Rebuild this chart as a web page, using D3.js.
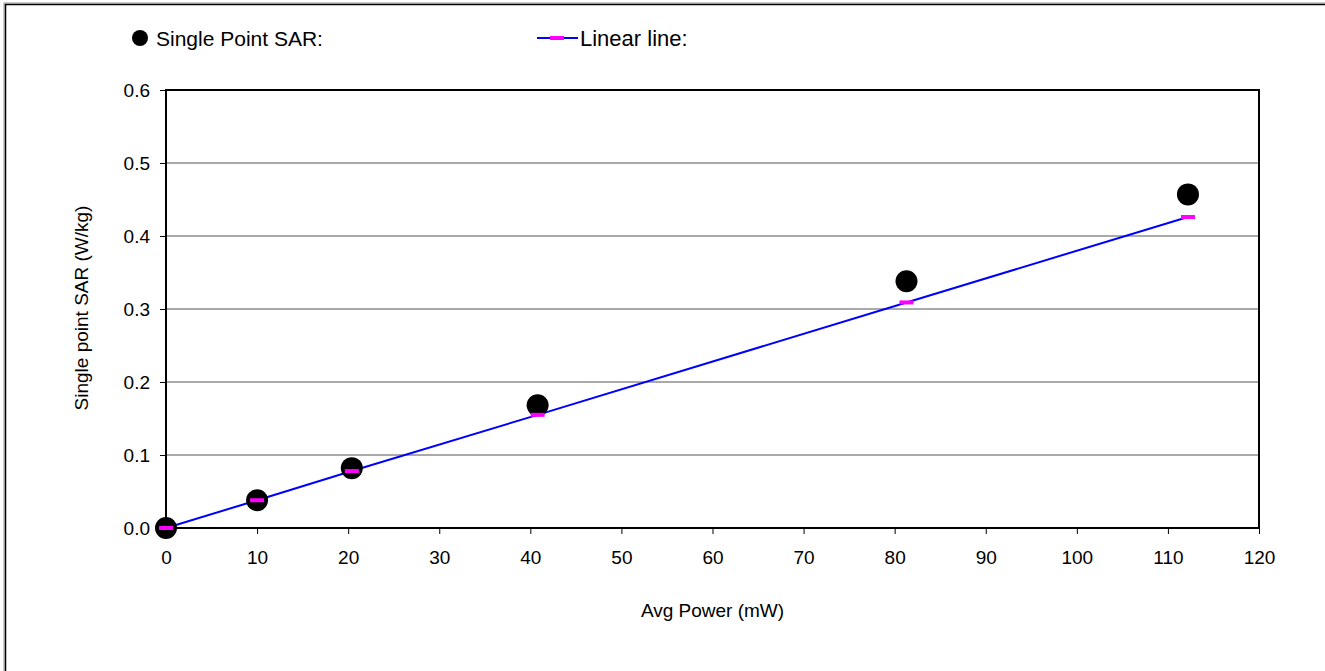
<!DOCTYPE html>
<head>
  <meta charset="utf-8">
  <style>
    body { margin: 0; background: white; overflow: hidden; }
    svg { display: block; }
    text { font-family: 'Liberation Sans', Arial, sans-serif; fill: black; }
    .axis text { font-size: 19px; font-family: 'Liberation Sans', Arial, sans-serif; }
    .axis path, .axis line { stroke: black; }
  </style>
</head>
<body>
  <script src="https://cdn.jsdelivr.net/npm/d3@7"></script>
  <script>
    // data
    const power = [0, 10, 20.4, 40.8, 81.3, 112.2];
    const sarPoints = [0, 0.038, 0.082, 0.168, 0.338, 0.457];
    const linearLine = [0, 0.038, 0.078, 0.155, 0.309, 0.426];
    const xTicks = [0, 10, 20, 30, 40, 50, 60, 70, 80, 90, 100, 110, 120];
    const yTicks = [0, 0.1, 0.2, 0.3, 0.4, 0.5, 0.6];

    const width = 1325, height = 671;
    const margin = {top: 90, right: 66, bottom: 143, left: 166};
    const innerWidth = width - margin.left - margin.right;
    const innerHeight = height - margin.top - margin.bottom;

    const svg = d3.select("body").append("svg")
      .attr("width", width)
      .attr("height", height);

    // outer frame (only top and left edges fall inside the picture)
    svg.append("rect")
      .attr("x", 4).attr("y", 3)
      .attr("width", width + 20).attr("height", height + 20)
      .attr("fill", "none").attr("stroke", "#999").attr("stroke-width", 1);
    svg.append("rect")
      .attr("x", 5.5).attr("y", 4.5)
      .attr("width", width + 20).attr("height", height + 20)
      .attr("fill", "none").attr("stroke", "black").attr("stroke-width", 1.5);

    const g = svg.append("g")
      .attr("transform", "translate(" + margin.left + "," + margin.top + ")");

    const x = d3.scaleLinear().domain([0, 120]).range([0, innerWidth]);
    const y = d3.scaleLinear().domain([0, 0.6]).range([innerHeight, 0]);

    // grid lines
    g.selectAll(".grid").data(yTicks.slice(1, -1)).enter().append("line")
      .attr("class", "grid")
      .attr("x1", 0).attr("x2", innerWidth)
      .attr("y1", d => y(d)).attr("y2", d => y(d))
      .attr("stroke", "#555").attr("stroke-width", 1);

    // axes
    g.append("g")
      .attr("class", "axis")
      .attr("transform", "translate(0," + innerHeight + ")")
      .call(d3.axisBottom(x).tickValues(xTicks).tickSize(6).tickSizeOuter(0).tickPadding(17))
      .call(a => a.select(".domain").remove());

    g.append("g")
      .attr("class", "axis")
      .call(d3.axisLeft(y).tickValues(yTicks).tickFormat(d3.format(".1f")).tickSize(6).tickSizeOuter(0).tickPadding(10))
      .call(a => a.select(".domain").remove());

    // plot frame
    g.append("rect")
      .attr("width", innerWidth).attr("height", innerHeight)
      .attr("fill", "none").attr("stroke", "black").attr("stroke-width", 2);

    // linear line
    g.append("path")
      .datum(power.map((p, i) => [p, linearLine[i]]))
      .attr("fill", "none").attr("stroke", "#0000ff").attr("stroke-width", 2)
      .attr("d", d3.line().x(d => x(d[0])).y(d => y(d[1])));

    // SAR points
    g.selectAll(".pt").data(power).enter().append("circle")
      .attr("class", "pt")
      .attr("cx", d => x(d)).attr("cy", (d, i) => y(sarPoints[i]))
      .attr("r", 11).attr("fill", "black");

    // linear line markers
    g.selectAll(".mk").data(power).enter().append("rect")
      .attr("class", "mk")
      .attr("x", d => x(d) - 7).attr("y", (d, i) => y(linearLine[i]) - 2)
      .attr("width", 14).attr("height", 4).attr("fill", "#ff00ff");

    // axis titles
    svg.append("text")
      .attr("x", margin.left + innerWidth / 2).attr("y", 617)
      .attr("text-anchor", "middle").style("font-size", "19px")
      .text("Avg Power (mW)");

    svg.append("text")
      .attr("transform", "translate(88,308) rotate(-90)")
      .attr("text-anchor", "middle").style("font-size", "19px")
      .text("Single point SAR (W/kg)");

    // legend
    svg.append("circle").attr("cx", 140).attr("cy", 38).attr("r", 8).attr("fill", "black");
    svg.append("text").attr("x", 156).attr("y", 46).style("font-size", "21px").text("Single Point SAR:");
    svg.append("line").attr("x1", 537).attr("x2", 578).attr("y1", 38).attr("y2", 38)
      .attr("stroke", "#0000ff").attr("stroke-width", 2);
    svg.append("rect").attr("x", 550).attr("y", 36).attr("width", 14).attr("height", 4).attr("fill", "#ff00ff");
    svg.append("text").attr("x", 580).attr("y", 46).style("font-size", "22px").text("Linear line:");
  </script>
</body>
